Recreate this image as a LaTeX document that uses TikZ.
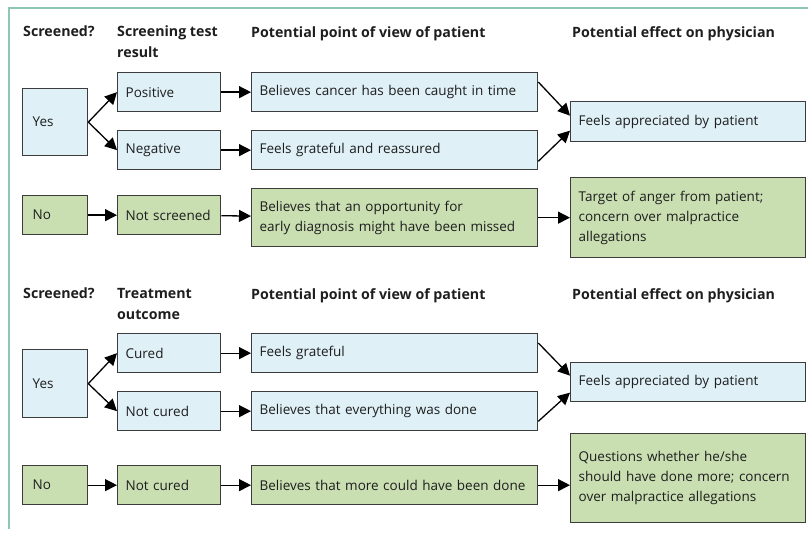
\documentclass[tikz,border=0pt]{standalone}
\usepackage{fontspec}
\setmainfont{Open Sans}
\usetikzlibrary{arrows.meta}
\definecolor{bluefill}{HTML}{DFF0F7}
\definecolor{greenfill}{HTML}{C9DFB2}
\definecolor{bordc}{HTML}{3C3C3C}
\definecolor{txtc}{HTML}{1E1E1E}
\definecolor{framec}{HTML}{8CC9B0}
\tikzset{
  bbox/.style={draw=bordc, line width=1.3pt, anchor=north west, inner xsep=8pt, inner ysep=0pt,
    align=left, text=txtc, font=\fontsize{13.5}{20}\selectfont},
  bluebox/.style={bbox, fill=bluefill},
  greenbox/.style={bbox, fill=greenfill},
  head/.style={anchor=north west, inner sep=0pt, align=left, text=txtc,
    font=\fontsize{14.2}{21}\selectfont\bfseries},
  arr/.style={line width=1.3pt, draw=black, -{Triangle[length=12pt,width=12pt]}}
}
\begin{document}
\begin{tikzpicture}[x=1pt,y=-1pt]
\useasboundingbox (0,0) rectangle (808,534);
% frame
\draw[framec, line width=1.3pt] (808,8) -- (9,8) -- (9,529);

% ---------- top section ----------
\node[head] (h1) at (23,26) {Screened?};
\node[head] (h2) at (117,26) {Screening test\\result};
\node[head] (h3) at (251,26) {Potential point of view of patient};
\node[head] (h4) at (572,26) {Potential effect on physician};

\node[bluebox, minimum width=64pt, minimum height=67pt, text width=45pt, inner xsep=10pt] (yes1) at (22,88) {Yes};
\node[bluebox, minimum width=103pt, minimum height=39pt, text width=87pt] (pos) at (117,72) {Positive};
\node[bluebox, minimum width=103pt, minimum height=39pt, text width=87pt] (neg) at (117,130) {Negative};
\node[greenbox, minimum width=64pt, minimum height=39pt, text width=45pt, inner xsep=10pt] (no1) at (22,195) {No};
\node[greenbox, minimum width=103pt, minimum height=39pt, text width=87pt] (ns) at (117,195) {Not screened};
\node[bluebox, minimum width=286pt, minimum height=39pt, text width=270pt] (pv1) at (251,72) {Believes cancer has been caught in time};
\node[bluebox, minimum width=286pt, minimum height=39pt, text width=270pt] (pv2) at (251,130) {Feels grateful and reassured};
\node[greenbox, minimum width=286pt, minimum height=58pt, text width=270pt] (pv3) at (251,188) {Believes that an opportunity for\\early diagnosis might have been missed};
\node[bluebox, minimum width=235pt, minimum height=40pt, text width=219pt] (ef1) at (570,101) {Feels appreciated by patient};
\node[greenbox, minimum width=235pt, minimum height=80pt, text width=219pt] (ef2) at (570,177) {Target of anger from patient;\\concern over malpractice\\allegations};

\draw[arr] (yes1.east) -- (pos.west);
\draw[arr] (yes1.east) -- (neg.west);
\draw[arr] (pos) -- (pv1);
\draw[arr] (neg) -- (pv2);
\draw[arr] (no1) -- (ns);
\draw[arr] (ns) -- (pv3);
\draw[arr] ([yshift=-10pt]pv1.north east) -- ([yshift=6pt]ef1.west);
\draw[arr] ([yshift=9pt]pv2.south east) -- ([yshift=-9pt]ef1.west);
\draw[arr] (pv3.east) -- (pv3.east -| ef2.west);

% ---------- bottom section ----------
\node[head] (h5) at (23,288) {Screened?};
\node[head] (h6) at (117,288) {Treatment\\outcome};
\node[head] (h7) at (251,288) {Potential point of view of patient};
\node[head] (h8) at (572,288) {Potential effect on physician};

\node[bluebox, minimum width=64pt, minimum height=68pt, text width=45pt, inner xsep=10pt] (yes2) at (22,349) {Yes};
\node[bluebox, minimum width=103pt, minimum height=39pt, text width=87pt] (cur) at (117,333) {Cured};
\node[bluebox, minimum width=103pt, minimum height=39pt, text width=87pt] (ncur) at (117,391) {Not cured};
\node[greenbox, minimum width=64pt, minimum height=39pt, text width=45pt, inner xsep=10pt] (no2) at (22,465) {No};
\node[greenbox, minimum width=103pt, minimum height=39pt, text width=87pt] (ncur2) at (117,465) {Not cured};
\node[bluebox, minimum width=286pt, minimum height=39pt, text width=270pt] (pv4) at (251,333) {Feels grateful};
\node[bluebox, minimum width=286pt, minimum height=39pt, text width=270pt] (pv5) at (251,391) {Believes that everything was done};
\node[greenbox, minimum width=286pt, minimum height=39pt, text width=270pt] (pv6) at (251,465) {Believes that more could have been done};
\node[bluebox, minimum width=235pt, minimum height=39pt, text width=219pt] (ef3) at (570,362) {Feels appreciated by patient};
\node[greenbox, minimum width=235pt, minimum height=89pt, text width=219pt] (ef4) at (570,433) {Questions whether he/she\\should have done more; concern\\over malpractice allegations};

\draw[arr] (yes2.east) -- (cur.west);
\draw[arr] (yes2.east) -- (ncur.west);
\draw[arr] (cur) -- (pv4);
\draw[arr] (ncur) -- (pv5);
\draw[arr] (no2) -- (ncur2);
\draw[arr] (ncur2) -- (pv6);
\draw[arr] ([yshift=-10pt]pv4.north east) -- ([yshift=6.5pt]ef3.west);
\draw[arr] ([yshift=10pt]pv5.south east) -- ([yshift=-10.5pt]ef3.west);
\draw[arr] (pv6.east) -- (pv6.east -| ef4.west);
\end{tikzpicture}
\end{document}
